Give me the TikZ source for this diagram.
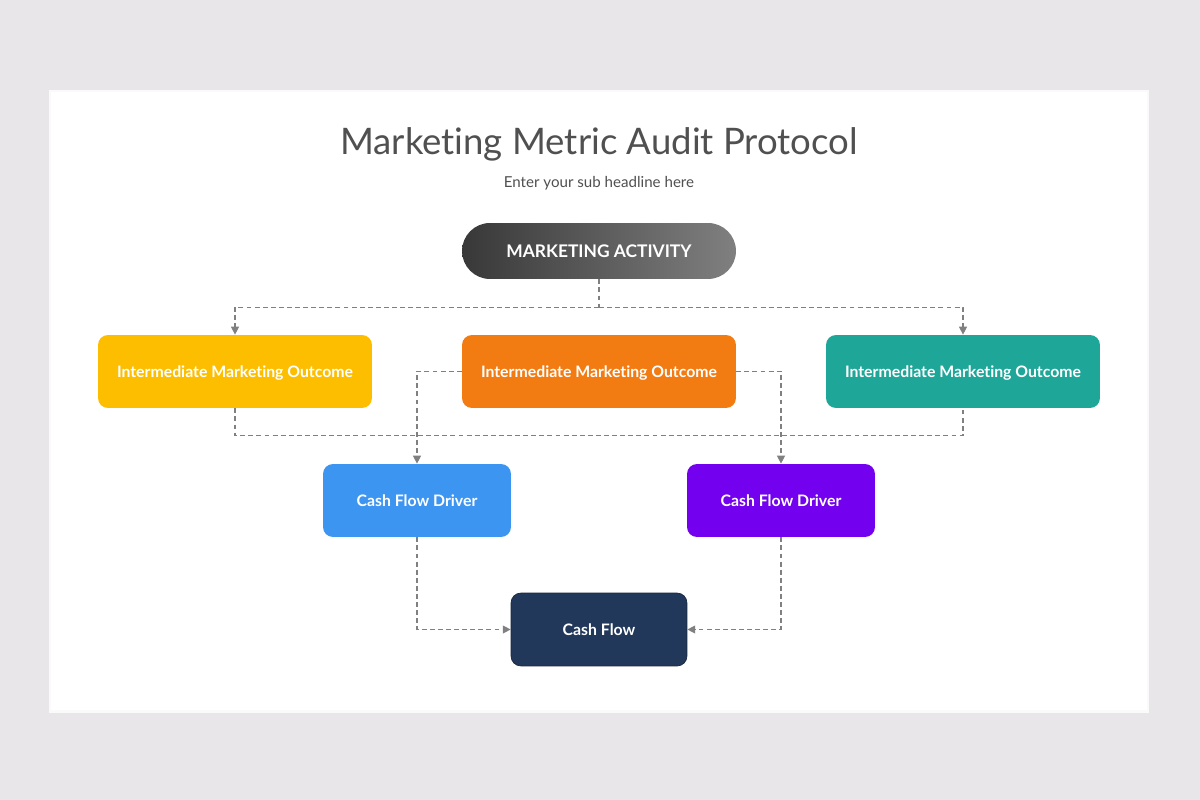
\documentclass[tikz,border=0pt]{standalone}
\usepackage{fontspec}
\setmainfont{Lato}[Ligatures={NoCommon}]
\usepackage{tikz}
\usetikzlibrary{positioning, arrows.meta, calc}

\definecolor{slidebg}{HTML}{E8E6E8}
\definecolor{titlegray}{HTML}{505050}
\definecolor{linkgray}{HTML}{808080}
\definecolor{outyellow}{HTML}{FDBE00}
\definecolor{outorange}{HTML}{F27B12}
\definecolor{outteal}{HTML}{1EA698}
\definecolor{drvblue}{HTML}{3D95F2}
\definecolor{drvpurple}{HTML}{7300EF}
\definecolor{cashnavy}{HTML}{22385A}

\begin{document}
\begin{tikzpicture}[x=0.02cm, y=-0.02cm,
    box/.style={rounded corners=0.2cm, text=white, font=\bfseries\fontsize{9}{11}\selectfont, minimum height=1.46cm, inner sep=0pt, text height=6.5pt, text depth=0pt},
    outbox/.style={box, minimum width=5.48cm},
    drvbox/.style={box, minimum width=3.76cm},
    link/.style={draw=linkgray, line width=0.7pt, dash pattern=on 2.8pt off 1.8pt},
    arr/.style={link, -{Triangle[length=4.5pt, width=4.5pt]}}]
    \useasboundingbox (0,0) rectangle (1200,800);
    % slide
    \fill[slidebg] (0,0) rectangle (1200,800);
    \fill[black!2] (49,90) rectangle (1149,713);
    \fill[white] (51,92) rectangle (1147,710);
    % headings
    \node[font=\fontsize{20.8}{24}\selectfont, text=titlegray] (title) at (599,144) {Marketing Metric Audit Protocol};
    \node[font=\fontsize{8.6}{10}\selectfont, text=titlegray] (sub) at (599,183) {Enter your sub headline here};
    % boxes
    \node[box, rounded corners=0.56cm, minimum width=5.48cm, minimum height=1.12cm, left color=black!78, right color=black!50, font=\bfseries\fontsize{9.9}{12}\selectfont, text height=7.2pt] (activity) at (599,251) {MARKETING ACTIVITY};
    \node[outbox, fill=outyellow] (outA) at (235,371.5) {Intermediate Marketing Outcome};
    \node[outbox, fill=outorange] (outB) at (599,371.5) {Intermediate Marketing Outcome};
    \node[outbox, fill=outteal] (outC) at (963,371.5) {Intermediate Marketing Outcome};
    \node[drvbox, fill=drvblue] (drvA) at (417,500.5) {Cash Flow Driver};
    \node[drvbox, fill=drvpurple] (drvB) at (781,500.5) {Cash Flow Driver};
    \node[box, minimum width=3.52cm, fill=cashnavy, draw=cashnavy!70!black] (cash) at (599,629.5) {Cash Flow};
    % connectors
    \coordinate (split) at ($(activity.south)+(0,28)$);
    \coordinate (merge) at ($(outA.south)+(0,27)$);
    \draw[link] (activity.south) -- (split);
    \draw[arr] (split) -| (outA.north);
    \draw[arr] (split) -| (outC.north);
    \draw[link] (outA.south) -- (merge) -| (outC.south);
    \draw[arr] (outB.west) -| (drvA.north);
    \draw[arr] (outB.east) -| (drvB.north);
    \draw[arr] (drvA.south) |- (cash.west);
    \draw[arr] (drvB.south) |- (cash.east);
\end{tikzpicture}
\end{document}
